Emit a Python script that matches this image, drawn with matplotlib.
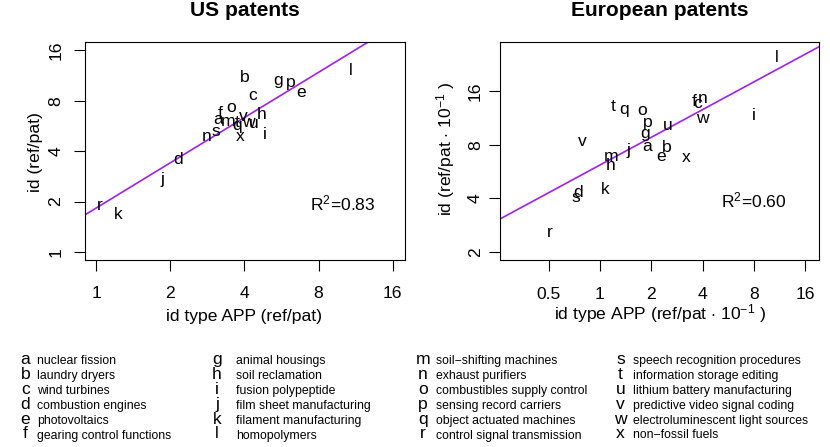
import matplotlib
matplotlib.use('Agg')
import matplotlib.pyplot as plt
import numpy as np
from matplotlib.transforms import ScaledTranslation, blended_transform_factory

plt.rcParams['font.family'] = ['Liberation Sans', 'DejaVu Sans']
plt.rcParams['mathtext.fontset'] = 'custom'
plt.rcParams['mathtext.rm'] = 'Liberation Sans'
plt.rcParams['mathtext.it'] = 'Liberation Sans:italic'
plt.rcParams['mathtext.bf'] = 'Liberation Sans:bold'

# ---------------- data ----------------
labels = list('abcdefghijklmnopqrstuvwx')
descriptions = [
    'nuclear fission', 'laundry dryers', 'wind turbines', 'combustion engines',
    'photovoltaics', 'gearing control functions', 'animal housings', 'soil reclamation',
    'fusion polypeptide', 'film sheet manufacturing', 'filament manufacturing', 'homopolymers',
    'soil\u2212shifting machines', 'exhaust purifiers', 'combustibles supply control',
    'sensing record carriers', 'object actuated machines', 'control signal transmission',
    'speech recognition procedures', 'information storage editing',
    'lithium battery manufacturing', 'predictive video signal coding',
    'electroluminescent light sources', 'non\u2212fossil fuels']

us_x = [3.12, 4.00, 4.33, 2.14, 6.81, 3.19, 5.50, 4.68, 4.83, 1.86, 1.23, 10.85,
        3.44, 2.81, 3.52, 6.18, 3.73, 1.03, 3.07, 3.73, 4.35, 3.97, 4.15, 3.84]
us_y = [6.21, 11.3, 8.63, 3.65, 9.0, 6.87, 10.27, 6.77, 5.17, 2.72, 1.71, 12.5,
        5.99, 4.87, 7.25, 10.1, 5.54, 1.89, 5.27, 6.07, 5.85, 6.47, 5.91, 4.92]
eu_x = [1.90, 2.48, 3.74, 0.746, 2.27, 3.56, 1.84, 1.15, 7.94, 1.47, 1.08, 10.9,
        1.16, 3.98, 1.76, 1.92, 1.38, 0.51, 0.72, 1.19, 2.50, 0.79, 3.98, 3.22]
eu_y = [7.78, 7.93, 13.6, 4.40, 6.85, 14.2, 9.07, 6.23, 11.85, 7.46, 4.61, 25.1,
        6.85, 14.56, 12.5, 10.4, 12.36, 2.58, 4.05, 13.47, 10.3, 8.31, 11.2, 6.76]

# log10 regression coefficients: log10(y) = a + b*log10(x)
us_fit = (0.263, 0.897)
eu_fit = (0.789, 0.516)
us_r2 = '0.83'
eu_r2 = '0.60'

us_xticks = [1, 2, 4, 8, 16]
us_yticks = [1, 2, 4, 8, 16]
eu_xticks = [0.5, 1, 2, 4, 8, 16]
eu_yticks = [2, 4, 8, 16]

# ---------------- figure ----------------
W, H = 830, 447
DPI = 100
fig = plt.figure(figsize=(W / DPI, H / DPI), dpi=DPI)


def fx(px):
    return px / W


def fy(py):
    return 1 - py / H


FS = 12.6
PURPLE = '#A020F0'

asc = set('bdfhiklt')
desc = set('gpqy')


def px_off(dx, dy):
    return ScaledTranslation(dx / DPI, dy / DPI, fig.dpi_scale_trans)


def panel(rect, xs, ys, fit, r2, r2pos, xlim, ylim, xticks, yticks,
          xtl_drop, ytl_left):
    ax = fig.add_axes(rect)
    ax.set_xscale('log')
    ax.set_yscale('log')
    ax.set_xlim(*xlim)
    ax.set_ylim(*ylim)
    ax.set_xticks(xticks)
    ax.set_yticks(yticks)
    ax.minorticks_off()
    ax.tick_params(direction='out', length=8.2, width=0.8, labelbottom=False,
                   labelleft=False)
    for s in ax.spines.values():
        s.set_linewidth(0.8)
    # fit line
    xx = np.geomspace(xlim[0], xlim[1], 50)
    ax.plot(xx, 10 ** (fit[0] + fit[1] * np.log10(xx)), color=PURPLE, lw=1.2,
            zorder=1)
    # letters
    for lab, x, y in zip(labels, xs, ys):
        dy = 0
        if lab in asc:
            dy = -0.1 * FS * DPI / 72
        elif lab in desc:
            dy = 0.1 * FS * DPI / 72
        ax.text(x, y, lab, ha='center', va='center', fontsize=FS,
                transform=ax.transData + px_off(0, dy), zorder=3)
    # R^2
    ax.text(r2pos[0], r2pos[1], r'R$^2$=' + r2, ha='center', va='baseline',
            fontsize=FS, transform=ax.transData + px_off(0, -9))
    # tick labels
    tb = blended_transform_factory(ax.transData, ax.transAxes)
    for t in xticks:
        ax.text(t, 0, ('%g' % t), ha='center', va='baseline', fontsize=FS,
                transform=tb + px_off(0, -xtl_drop))
    tl = blended_transform_factory(ax.transAxes, ax.transData)
    for t in yticks:
        ax.text(0, t, ('%g' % t), ha='center', va='baseline', fontsize=FS,
                rotation=90, rotation_mode='anchor',
                transform=tl + px_off(-ytl_left, 0))
    return ax


axL = panel([fx(84.5), fy(260), 320 / W, 217.7 / H], us_x, us_y, us_fit, us_r2,
            (10, 2), (0.895, 17.88), (0.895, 17.88), us_xticks, us_yticks,
            38.5, 24.0)
axR = panel([fx(500), fy(260), 319.3 / W, 217.7 / H], eu_x, eu_y, eu_fit, eu_r2,
            (8, 4), (0.259, 19.36), (1.804, 30.0), eu_xticks, eu_yticks,
            39.3, 20.0)

# titles
fig.text(fx(244.5), fy(16.2), 'US patents', ha='center', va='baseline',
         fontsize=15.1, fontweight='bold')
fig.text(fx(659.7), fy(16.2), 'European patents', ha='center', va='baseline',
         fontsize=15.1, fontweight='bold')

# axis labels
fig.text(fx(244.5), fy(320.5), 'id type APP (ref/pat)', ha='center',
         va='baseline', fontsize=FS)
fig.text(fx(659.7), fy(319), r'id type APP (ref/pat $\cdot$ 10$^{-1}$ )',
         ha='center', va='baseline', fontsize=FS)
fig.text(fx(40.3), fy(151.5), 'id (ref/pat)', ha='center', va='baseline',
         rotation=90, rotation_mode='anchor', fontsize=FS)
fig.text(fx(451.7), fy(149.2), r'id (ref/pat $\cdot$ 10$^{-1}$ )', ha='center',
         va='baseline', rotation=90, rotation_mode='anchor', fontsize=FS)

# legend
col_letter_x = [25.5, 217.0, 423.0, 620.5]
col_text_x = [36.7, 236.0, 435.7, 633.3]
for i, (lab, d) in enumerate(zip(labels, descriptions)):
    col, row = divmod(i, 6)
    yb = 364.0 + 14.9 * row
    fig.text(fx(col_letter_x[col]), fy(yb), lab, ha='center', va='baseline',
             fontsize=FS)
    fig.text(fx(col_text_x[col]), fy(yb), d, ha='left', va='baseline',
             fontsize=FS * 0.7)

fig.savefig('out.png', dpi=DPI)
